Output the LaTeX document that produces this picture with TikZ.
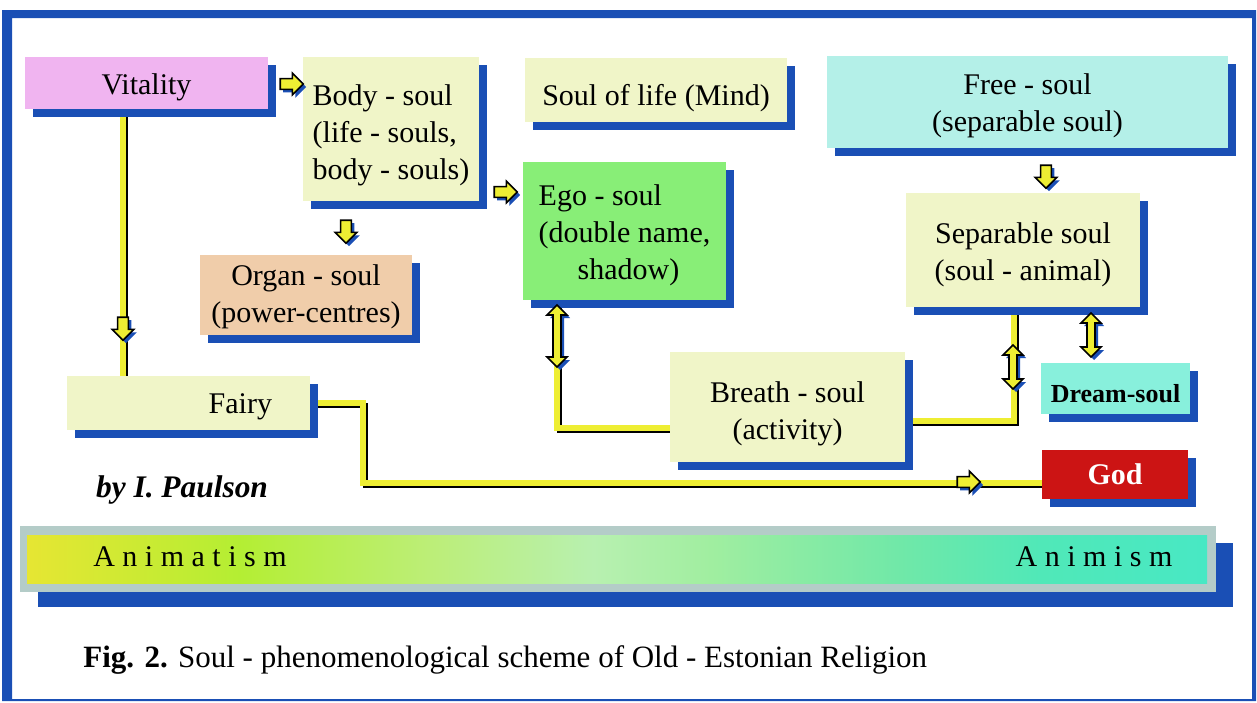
\documentclass[tikz,border=0pt]{standalone}
\usepackage{fontspec}
\setmainfont{Liberation Serif}
\usetikzlibrary{shapes.arrows}
\usetikzlibrary{shadows}
\usetikzlibrary{backgrounds}
\usetikzlibrary{positioning}

\definecolor{soulblue}{HTML}{1A4FB5}
\definecolor{linkyellow}{HTML}{EEEE33}
\definecolor{vitpink}{HTML}{F0B4F0}
\definecolor{soulcream}{HTML}{F0F5C8}
\definecolor{freecyan}{HTML}{B4F0E8}
\definecolor{egogreen}{HTML}{88EE77}
\definecolor{organpeach}{HTML}{F0CDAA}
\definecolor{dreamcyan}{HTML}{88F0DC}
\definecolor{godred}{HTML}{CC1414}
\definecolor{bargray}{HTML}{B4CCC8}
\definecolor{barA}{HTML}{E6E633}
\definecolor{barB}{HTML}{B4EE33}
\definecolor{barC}{HTML}{BCEE77}
\definecolor{barD}{HTML}{B8F0B0}
\definecolor{barE}{HTML}{A0EEA0}
\definecolor{barF}{HTML}{70E8A8}
\definecolor{barG}{HTML}{50E8B8}
\definecolor{barH}{HTML}{48E8C4}

\pgfdeclarehorizontalshading{soulbar}{100bp}{color(0bp)=(barA); color(25bp)=(barA);
  color(34bp)=(barB); color(42bp)=(barC); color(49bp)=(barD); color(54bp)=(barE);
  color(62bp)=(barF); color(68bp)=(barG); color(75bp)=(barH); color(100bp)=(barH)}

% invisible strut that pushes the box text down
\newcommand\soullift[1]{\rule{0pt}{#1}}

\tikzset{
  soulbox/.style={rectangle, inner sep=0pt, align=center,
    font=\fontsize{15}{18.5}\selectfont,
    drop shadow={shadow xshift=4pt, shadow yshift=-4pt, opacity=1, fill=soulblue}},
  link/.style={draw=linkyellow, line width=2.6pt,
    preaction={draw=black, line width=2.6pt, transform canvas={xshift=1.1pt, yshift=-1.1pt}}},
  glyph/.style={draw=black, fill=linkyellow, line width=0.8pt,
    drop shadow={shadow xshift=1.5pt, shadow yshift=-1.5pt, opacity=1, fill=soulblue}},
  rarrow/.style={glyph, single arrow, inner sep=2.3pt, minimum height=11.5pt,
    single arrow head extend=2.7pt},
  darrow/.style={glyph, double arrow, shape border rotate=90, inner sep=1.6pt,
    double arrow head extend=3pt}
}

\begin{document}
\begin{tikzpicture}[x=0.5pt,y=-0.5pt]
  \useasboundingbox (0,0) rectangle (1257,702);

  % frame
  \fill[soulblue, even odd rule] (2,10) rectangle (1256,701) (12,18) rectangle (1252,699);

  % boxes
  \node[soulbox, fill=vitpink, minimum width=121.5pt, minimum height=26pt] (vitality) at (146.5,83)
    {\soullift{15.2pt}Vitality};
  \node[soulbox, fill=soulcream, align=left, minimum width=88pt, minimum height=72pt] (body) at (391,129)
    {\soullift{17.2pt}Body - soul\\(life - souls,\\body - souls)};
  \node[soulbox, fill=soulcream, minimum width=131pt, minimum height=32pt] (mind) at (656,90)
    {\soullift{18.4pt}Soul of life (Mind)};
  \node[soulbox, fill=freecyan, minimum width=200.5pt, minimum height=46pt] (free) at (1027.5,102)
    {\soullift{13.7pt}Free - soul\\(separable soul)};
  \node[soulbox, fill=egogreen, align=left, minimum width=101.5pt, minimum height=69pt] (ego) at (624.5,231)
    {\soullift{14.2pt}Ego - soul\\(double name,\\\hspace*{1.3em}shadow)};
  \node[soulbox, fill=organpeach, minimum width=106pt, minimum height=40pt] (organ) at (306,295)
    {\soullift{12.2pt}Organ - soul\\(power-centres)};
  \node[soulbox, fill=soulcream, minimum width=117pt, minimum height=57pt] (separable) at (1023,250)
    {\soullift{15.2pt}Separable soul\\(soul - animal)};
  \node[soulbox, fill=soulcream, minimum width=117.5pt, minimum height=55pt] (breath) at (787.5,407)
    {\soullift{17.2pt}Breath - soul\\(activity)};
  \node[soulbox, fill=dreamcyan, font=\fontsize{13}{15}\selectfont\bfseries,
    minimum width=74.5pt, minimum height=25.5pt] (dream) at (1115.5,388.5) {\soullift{13.9pt}Dream-soul};
  \node[soulbox, fill=soulcream, text width=83.5pt, align=right,
    minimum width=121.5pt, minimum height=27pt] (fairy) at (188.5,403) {\soullift{14.2pt}Fairy};
  \node[soulbox, fill=godred, text=white, font=\fontsize{15}{18}\selectfont\bfseries,
    minimum width=73pt, minimum height=24.5pt] (god) at (1115,474.5) {God};

  % connecting lines
  \coordinate (vitline) at (123,0);
  \coordinate (egoline) at (557,428);
  \coordinate (sepline) at (1014,421);
  \coordinate (godline) at (363,483);
  \begin{pgfonlayer}{background}
    \draw[link] (vitality.south -| vitline) -- (fairy.north -| vitline);
    \draw[link] (ego.south -| egoline) |- (breath.west |- egoline);
    \draw[link] (breath.east |- sepline) -| (separable.south -| sepline);
    \draw[link] (fairy.east) -| (godline) -- (god.west |- godline);
  \end{pgfonlayer}

  % arrow glyphs
  \node[rarrow] (arVit) at (289,84) {};
  \node[rarrow] (arEgo) at (503,192) {};
  \node[rarrow, shape border rotate=270] (arOrgan) at (346,229) {};
  \node[rarrow, shape border rotate=270] (arFairy) at (123,326) {};
  \node[rarrow, shape border rotate=270] (arSep) at (1046,174) {};
  \node[rarrow] (arGod) at (966,482) {};
  \node[darrow, minimum height=31pt] (dbEgo) at (557,336) {};
  \node[darrow, minimum height=22pt] (dbBreath) at (1013,367) {};
  \node[darrow, minimum height=22pt] (dbDream) at (1091,335) {};

  % scale bar
  \fill[soulblue] (38,543) rectangle (1233,607);
  \fill[bargray] (20,526) rectangle (1216,592);
  \shade[shading=soulbar] (27,535) rectangle (1207,583);
  \node[font=\fontsize{15}{18}\selectfont] (animatism) at (190,557) {A n i m a t i s m};
  \node[font=\fontsize{15}{18}\selectfont] (animism) at (1094,557) {A n i m i s m};

  % texts
  \node[font=\fontsize{15.7}{19}\selectfont\bfseries\itshape] (author) at (182,490) {by I. Paulson};
  \node[anchor=west, inner sep=0pt, font=\fontsize{15.5}{18}\selectfont] (caption) at (83,660)
    {\textbf{Fig. 2.} Soul - phenomenological scheme of Old - Estonian Religion};
\end{tikzpicture}
\end{document}
